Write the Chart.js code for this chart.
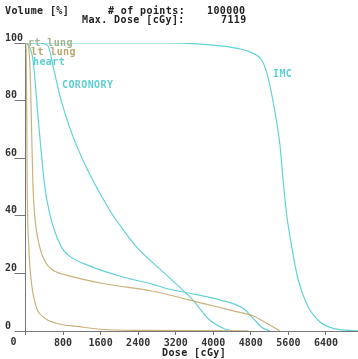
<!DOCTYPE html>
<html>
<head>
<meta charset="utf-8">
<script src="https://cdn.jsdelivr.net/npm/chart.js@4"></script>
<style>
html, body { margin: 0; padding: 0; background: #fff; }
#wrap { position: relative; width: 358px; height: 359px; overflow: hidden; }
canvas { position: absolute; left: 0; top: 0; }
.t { position: absolute; font: bold 10px "DejaVu Sans Mono", monospace; letter-spacing: 0.4px; white-space: pre; line-height: 10px; color: #222; }
.cy { color: #5fcfd4; }
</style>
</head>
<body>
<div id="wrap">
  <canvas id="dvh" width="358" height="359"></canvas>
  <div class="t" style="left:5px;top:6px">Volume [%]</div>
  <div class="t" style="left:108px;top:6px"># of points:</div>
  <div class="t" style="left:207px;top:6px">100000</div>
  <div class="t" style="left:82px;top:15px">Max. Dose [cGy]:</div>
  <div class="t" style="left:221px;top:15px">7119</div>
  <div class="t" style="left:28px;top:38px;color:#a4b58e">rt lung</div>
  <div class="t" style="left:31px;top:47px;color:#bda872">lt lung</div>
  <div class="t cy" style="left:33px;top:57px">heart</div>
  <div class="t cy" style="left:62px;top:80px">CORONORY</div>
  <div class="t cy" style="left:273px;top:69px">IMC</div>
  <div class="t" style="left:162px;top:348px">Dose [cGy]</div>
</div>
<script>
// dose ticks and series (dose in cGy, volume in %)
const doseTicks = [0, 800, 1600, 2400, 3200, 4000, 4800, 5600, 6400];
const volTicks = [0, 20, 40, 60, 80, 100];

const imcDose = [0, 3000, 3710, 4420, 4850, 5030, 5135, 5275, 5420, 5490, 5560, 5670, 5810, 6020, 6270, 6555, 6910, 7119];
const imcVol  = [100, 100, 99.6, 98.4, 96.4, 94.1, 90, 79.6, 64.6, 52, 40.9, 29.3, 17.7, 8.4, 3.2, 0.9, 0.2, 0];

const coroDose = [0, 300, 480, 600, 760, 1000, 1320, 1790, 2000, 2360, 3000, 3390, 3535, 3925, 4245, 4420];
const coroVol  = [100, 100, 99, 91, 80, 68, 56, 42, 37, 29.3, 19.5, 13.6, 11.3, 3.8, 0.7, 0];

const heartDose = [0, 50, 160, 280, 405, 512, 760, 940, 1365, 2000, 2710, 3070, 3500, 4140, 4635, 4850, 5030, 5200];
const heartVol  = [100, 99.5, 94, 72, 51, 40.9, 29.3, 26, 22.6, 19.1, 16.2, 14.5, 13.1, 10.8, 7.9, 4.4, 1.3, 0];

const rtLungDose = [0, 15, 25, 35, 70, 120, 228, 370, 655, 1150, 1600, 2400, 4700, 4750];
const rtLungVol  = [100, 97, 80, 52, 29.3, 17.7, 8.4, 5, 2.7, 1.5, 0.6, 0.2, 0.05, 0];

const ltLungDose = [0, 60, 100, 130, 156, 192, 300, 440, 580, 870, 1650, 2710, 3070, 3780, 4495, 4850, 5135, 5350, 5420];
const ltLungVol  = [100, 99, 90, 70, 52, 40.9, 29.3, 23.5, 21.2, 19.4, 16.5, 13.8, 12.5, 9.6, 6.7, 5.2, 2.7, 0.7, 0];

const CYAN = '#62d2d7';
const TAN = '#ccb07a';
const AXIS = '#777';
const tickFont = { family: 'DejaVu Sans Mono', size: 10, weight: 'bold' };

function pts(xs, ys) { return xs.map((d, i) => ({ x: d, y: ys[i] })); }
function serie(label, xs, ys, color) {
    return {
        label: label, data: pts(xs, ys), borderColor: color, borderWidth: 1.2,
        pointRadius: 0, fill: false, cubicInterpolationMode: 'monotone'
    };
}

// x "0" label sits left of the axis in the original
const zeroLabel = {
    id: 'zeroLabel',
    afterDraw(chart) {
        const ctx = chart.ctx, x = chart.scales.x;
        ctx.save();
        ctx.font = 'bold 10px "DejaVu Sans Mono"';
        ctx.fillStyle = '#333';
        ctx.textAlign = 'center';
        ctx.textBaseline = 'middle';
        ctx.fillText('0', x.getPixelForValue(doseTicks[0]) - 12, 342);
        ctx.restore();
    }
};

new Chart(document.getElementById('dvh'), {
    type: 'line',
    data: {
        datasets: [
            serie('rt lung', rtLungDose, rtLungVol, TAN),
            serie('lt lung', ltLungDose, ltLungVol, TAN),
            serie('heart', heartDose, heartVol, CYAN),
            serie('CORONORY', coroDose, coroVol, CYAN),
            serie('IMC', imcDose, imcVol, CYAN)
        ]
    },
    options: {
        responsive: false,
        animation: false,
        devicePixelRatio: 1,
        layout: { padding: { left: 5, top: 43, right: 0, bottom: 0 } },
        plugins: { legend: { display: false }, tooltip: { enabled: false } },
        scales: {
            x: {
                type: 'linear', min: 0, max: 7083,
                afterBuildTicks: s => { s.ticks = doseTicks.map(v => ({ value: v })); },
                afterFit: s => { s.height = 28; },
                ticks: {
                    maxRotation: 0, autoSkip: false, padding: 2, color: '#333', font: tickFont,
                    callback: v => v === 0 ? '' : String(v)
                },
                grid: { drawOnChartArea: false, tickLength: 4, color: AXIS },
                border: { color: AXIS }
            },
            y: {
                min: 0, max: 100,
                afterBuildTicks: s => { s.ticks = volTicks.map(v => ({ value: v })); },
                afterFit: s => { s.width = 20.5; },
                ticks: { crossAlign: 'far', labelOffset: -5, padding: 0, color: '#333', font: tickFont },
                grid: { drawOnChartArea: false, tickLength: 11, color: AXIS },
                border: { color: AXIS }
            }
        }
    },
    plugins: [zeroLabel]
});
</script>
</body>
</html>
